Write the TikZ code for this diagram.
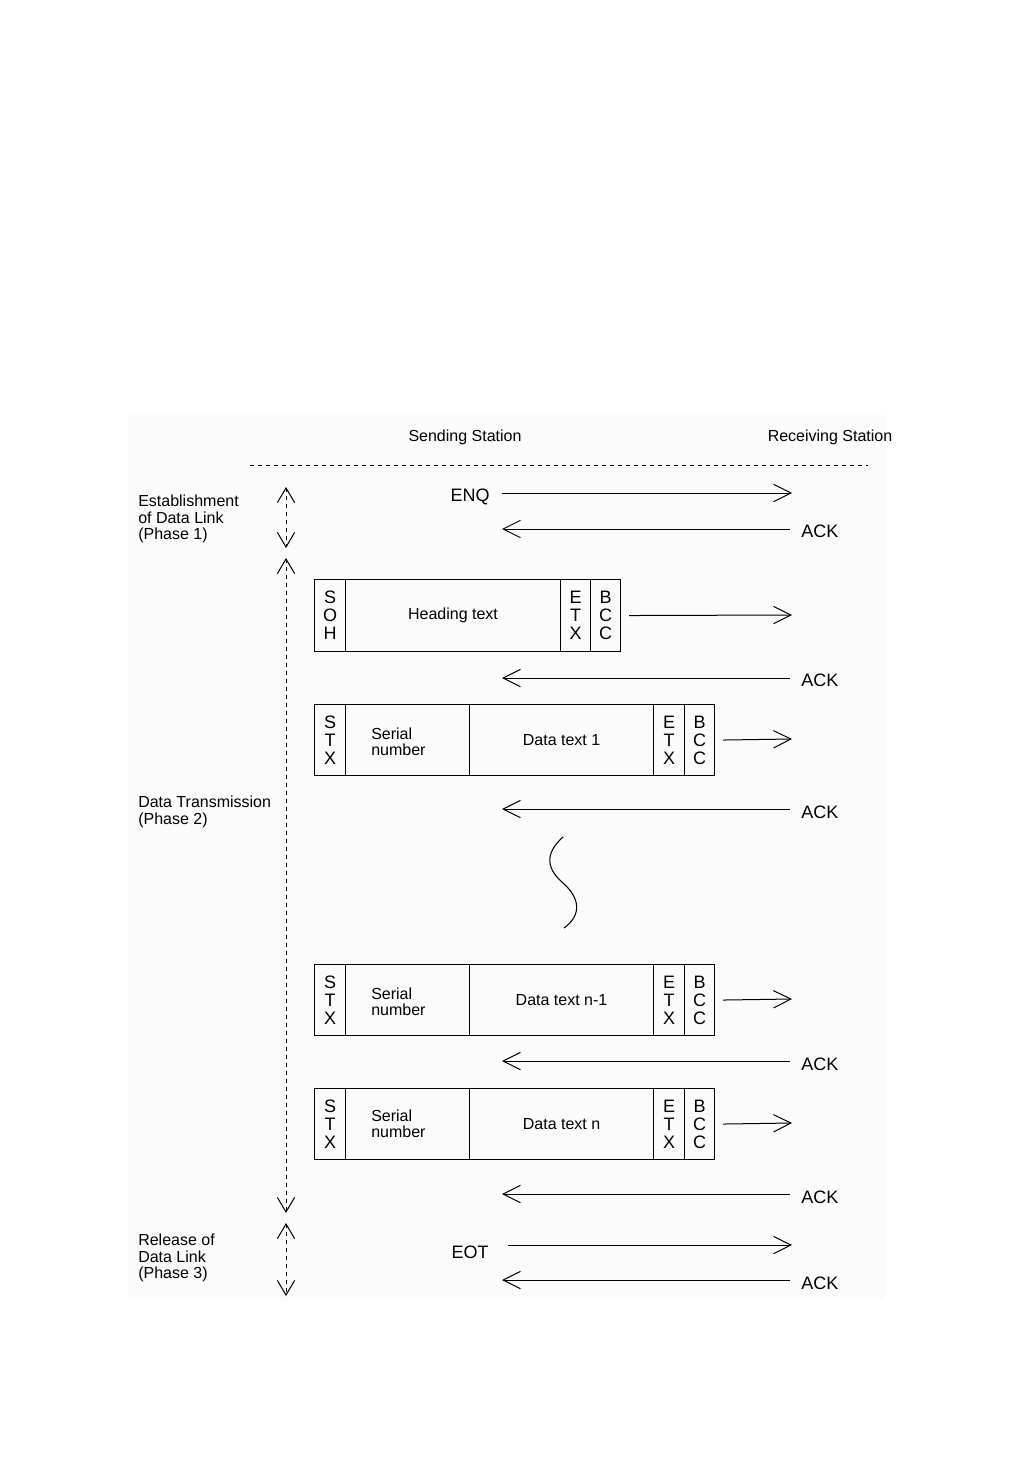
\documentclass[tikz,border=0pt]{standalone}
\usepackage{fontspec}
\setmainfont{Liberation Sans}
\usetikzlibrary{arrows.meta}
\newcommand\stackfont{\fontsize{13.5}{13.5}\selectfont}
\newcommand\txtfont{\fontsize{12}{12.4}\selectfont}
\newcommand\msgfont{\fontsize{13.5}{14}\selectfont}
\begin{document}
\begin{tikzpicture}[x=0.75pt,y=-0.75pt,
  every node/.style={inner sep=0pt, font=\txtfont},
  cellbox/.style={draw, line width=0.8pt, anchor=north west, align=center, font=\stackfont},
  msg/.style={line width=0.75pt, -{Straight Barb[length=13pt,width=13pt,line width=0.75pt]}},
  phase/.style={line width=0.6pt, dash pattern=on 3pt off 3pt,
     {Straight Barb[length=11pt,width=13pt,line width=0.75pt]}-{Straight Barb[length=11pt,width=13pt,line width=0.75pt]}},
  lbl/.style={anchor=west, align=left, font=\txtfont},
  msgl/.style={font=\msgfont}]
\useasboundingbox (0,0) rectangle (1032,1458);
\fill[black!1.5] (128,415) rectangle (885,1300);

% headers
\node (send) at (465,437) {Sending Station};
\node (recv) at (830,437) {Receiving Station};
\coordinate (hl) at (250,465);
\coordinate (hr) at (868,465);
\draw[line width=0.6pt, dash pattern=on 3pt off 3pt] (hl) -- (hr);

% phase labels
\node[lbl] (ph1) at (138,519) {Establishment\\of Data Link\\(Phase 1)};
\node[lbl] (ph2) at (138,812) {Data Transmission\\(Phase 2)};
\node[lbl] (ph3) at (138,1258) {Release of\\Data Link\\(Phase 3)};

% phase arrows
\coordinate (p1t) at (286,487); \coordinate (p1b) at (286,548);
\coordinate (p2t) at (286,558); \coordinate (p2b) at (286,1213);
\coordinate (p3t) at (286,1223); \coordinate (p3b) at (286,1296);
\draw[phase] (p1t) -- (p1b);
\draw[phase] (p2t) -- (p2b);
\draw[phase] (p3t) -- (p3b);

% ENQ / ACK
\node[msgl] (enq) at (470,497) {ENQ};
\coordinate (enqA) at (502,493); \coordinate (enqB) at (792,493);
\draw[msg] (enqA) -- (enqB);
\node[msgl, anchor=west] (ack1) at (801,531) {ACK};
\coordinate (ack1A) at (790,529); \coordinate (ack1B) at (502,529);
\draw[msg] (ack1A) -- (ack1B);

% Frame 1
\node[cellbox, minimum width=23.25pt, minimum height=54pt] (soh) at (314,579) {S\\O\\H};
\node[cellbox, minimum width=161.25pt, minimum height=54pt, font=\txtfont] (head) at (345,579) {Heading text};
\node[cellbox, minimum width=22.5pt, minimum height=54pt] (etx0) at (560,579) {E\\T\\X};
\node[cellbox, minimum width=22.5pt, minimum height=54pt] (bcc0) at (590,579) {B\\C\\C};
\coordinate (f0B) at (792,615);
\draw[msg] ([xshift=6pt]bcc0.east) -- (f0B);
\node[msgl, anchor=west] (ack2) at (801,680) {ACK};
\coordinate (ack2A) at (790,678); \coordinate (ack2B) at (502,678);
\draw[msg] (ack2A) -- (ack2B);

% Frame 2
\node[cellbox, minimum width=23.25pt, minimum height=53.25pt] (stx1) at (314,704) {S\\T\\X};
\node[cellbox, minimum width=93pt, minimum height=53.25pt] (ser1) at (345,704) {};
\node[lbl] (sn1) at (371,742) {Serial\\number};
\node[cellbox, minimum width=138pt, minimum height=53.25pt, font=\txtfont] (dat1) at (469,704) {Data text 1};
\node[cellbox, minimum width=23.25pt, minimum height=53.25pt] (etx1) at (653,704) {E\\T\\X};
\node[cellbox, minimum width=22.5pt, minimum height=53.25pt] (bcc1) at (684,704) {B\\C\\C};
\coordinate (f1B) at (792,739);
\draw[msg] ([xshift=6pt]bcc1.east) -- (f1B);
\node[msgl, anchor=west] (ack3) at (801,812) {ACK};
\coordinate (ack3A) at (790,809); \coordinate (ack3B) at (502,809);
\draw[msg] (ack3A) -- (ack3B);

% squiggle
\coordinate (sq0) at (563,837);
\coordinate (sq1) at (563,883);
\coordinate (sq2) at (564,928);
\draw[line width=0.8pt] (sq0) .. controls (543,855) and (548,870) .. (sq1)
  .. controls (580,898) and (582,915) .. (sq2);

% Frame 3
\node[cellbox, minimum width=23.25pt, minimum height=53.25pt] (stx2) at (314,964) {S\\T\\X};
\node[cellbox, minimum width=93pt, minimum height=53.25pt] (ser2) at (345,964) {};
\node[lbl] (sn2) at (371,1002) {Serial\\number};
\node[cellbox, minimum width=138pt, minimum height=53.25pt, font=\txtfont] (dat2) at (469,964) {Data text n-1};
\node[cellbox, minimum width=23.25pt, minimum height=53.25pt] (etx2) at (653,964) {E\\T\\X};
\node[cellbox, minimum width=22.5pt, minimum height=53.25pt] (bcc2) at (684,964) {B\\C\\C};
\coordinate (f2B) at (792,999);
\draw[msg] ([xshift=6pt]bcc2.east) -- (f2B);
\node[msgl, anchor=west] (ack4) at (801,1064) {ACK};
\coordinate (ack4A) at (790,1061); \coordinate (ack4B) at (502,1061);
\draw[msg] (ack4A) -- (ack4B);

% Frame 4
\node[cellbox, minimum width=23.25pt, minimum height=53.25pt] (stx3) at (314,1088) {S\\T\\X};
\node[cellbox, minimum width=93pt, minimum height=53.25pt] (ser3) at (345,1088) {};
\node[lbl] (sn3) at (371,1124) {Serial\\number};
\node[cellbox, minimum width=138pt, minimum height=53.25pt, font=\txtfont] (dat3) at (469,1088) {Data text n};
\node[cellbox, minimum width=23.25pt, minimum height=53.25pt] (etx3) at (653,1088) {E\\T\\X};
\node[cellbox, minimum width=22.5pt, minimum height=53.25pt] (bcc3) at (684,1088) {B\\C\\C};
\coordinate (f3B) at (792,1123);
\draw[msg] ([xshift=6pt]bcc3.east) -- (f3B);
\node[msgl, anchor=west] (ack5) at (801,1197) {ACK};
\coordinate (ack5A) at (790,1194); \coordinate (ack5B) at (502,1194);
\draw[msg] (ack5A) -- (ack5B);

% EOT / ACK
\node[msgl] (eot) at (470,1252) {EOT};
\coordinate (eotA) at (508,1245); \coordinate (eotB) at (792,1245);
\draw[msg] (eotA) -- (eotB);
\node[msgl, anchor=west] (ack6) at (801,1283) {ACK};
\coordinate (ack6A) at (790,1280); \coordinate (ack6B) at (502,1280);
\draw[msg] (ack6A) -- (ack6B);
\end{tikzpicture}
\end{document}
